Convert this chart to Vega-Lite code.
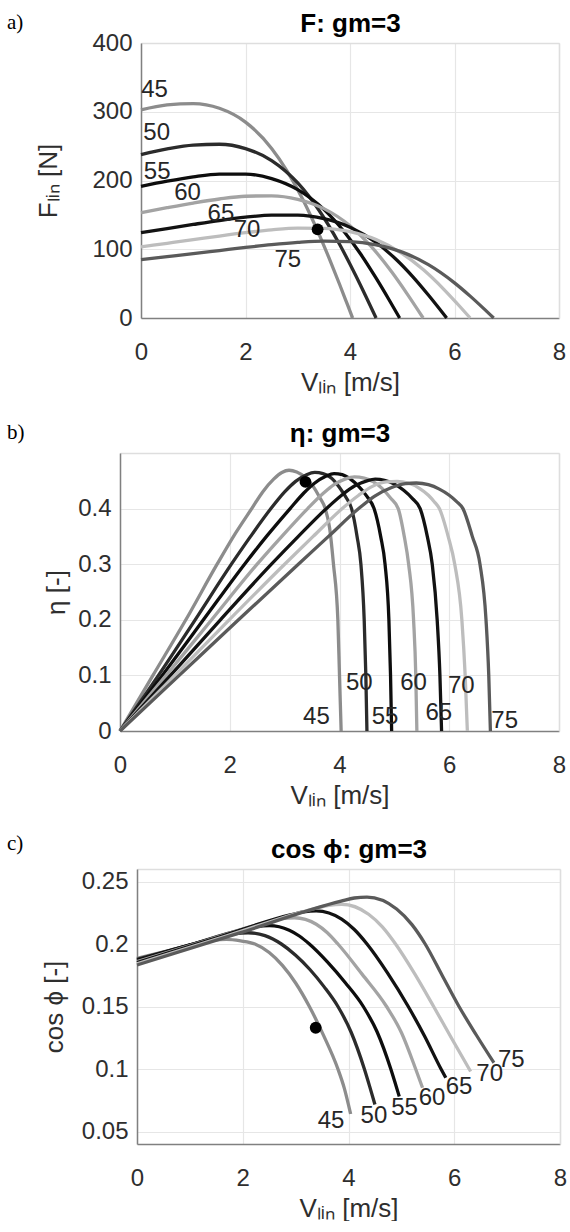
{
  "$schema": "https://vega.github.io/schema/vega-lite/v6.json",
  "background": "white",
  "padding": {"left": 7, "top": 10, "right": 0, "bottom": 0},
  "spacing": 25,
  "config": {
    "font": "Liberation Sans",
    "view": {"stroke": null},
    "axis": {
      "domainColor": "#808080", "domainWidth": 1.5,
      "gridColor": "#e6e6e6", "gridWidth": 1.2,
      "ticks": false, "tickSize": 0,
      "labelFont": "Liberation Sans", "labelFontSize": 24, "labelColor": "#2e2e2e",
      "labelFlush": false, "labelOverlap": false,
      "titleFont": "Liberation Sans", "titleFontSize": 26, "titleFontWeight": "normal", "titleColor": "#2e2e2e"
    },
    "axisX": {"labelPadding": 22, "titlePadding": 5},
    "axisY": {"labelPadding": 9},
    "title": {"font": "Liberation Serif", "fontSize": 21, "fontWeight": "normal", "color": "#000000", "anchor": "start", "frame": "group", "offset": 0, "baseline": "alphabetic"},
    "line": {"strokeWidth": 3.3, "interpolate": "monotone"},
    "text": {"fontSize": 24, "color": "#262626", "align": "center", "baseline": "middle"}
  },
  "datasets": {
    "F": [
      {"angle": 45, "v": 0, "val": 302.6}, {"angle": 45, "v": 0.5, "val": 309.9}, {"angle": 45, "v": 1.0, "val": 311.8}, {"angle": 45, "v": 1.5, "val": 305.0}, {"angle": 45, "v": 2.0, "val": 284.9}, {"angle": 45, "v": 2.5, "val": 246.7}, {"angle": 45, "v": 2.8, "val": 213.4}, {"angle": 45, "v": 3.1, "val": 172.1}, {"angle": 45, "v": 3.4, "val": 123.2}, {"angle": 45, "v": 3.6, "val": 87.1}, {"angle": 45, "v": 3.8, "val": 49.1}, {"angle": 45, "v": 3.95, "val": 19.7}, {"angle": 45, "v": 4.05, "val": 0},
      {"angle": 50, "v": 0, "val": 237.7}, {"angle": 50, "v": 0.5, "val": 246.0}, {"angle": 50, "v": 1.0, "val": 251.6}, {"angle": 50, "v": 1.5, "val": 252.7}, {"angle": 50, "v": 2.0, "val": 246.4}, {"angle": 50, "v": 2.5, "val": 229.0}, {"angle": 50, "v": 3.0, "val": 196.4}, {"angle": 50, "v": 3.4, "val": 157.5}, {"angle": 50, "v": 3.8, "val": 107.2}, {"angle": 50, "v": 4.1, "val": 63.2}, {"angle": 50, "v": 4.3, "val": 32.0}, {"angle": 50, "v": 4.5, "val": 0},
      {"angle": 55, "v": 0, "val": 191.4}, {"angle": 55, "v": 0.5, "val": 199.0}, {"angle": 55, "v": 1.0, "val": 205.4}, {"angle": 55, "v": 1.5, "val": 209.4}, {"angle": 55, "v": 2.0, "val": 209.3}, {"angle": 55, "v": 2.5, "val": 202.8}, {"angle": 55, "v": 3.0, "val": 186.7}, {"angle": 55, "v": 3.5, "val": 158.0}, {"angle": 55, "v": 3.9, "val": 124.4}, {"angle": 55, "v": 4.2, "val": 93.4}, {"angle": 55, "v": 4.5, "val": 57.9}, {"angle": 55, "v": 4.75, "val": 26.2}, {"angle": 55, "v": 4.95, "val": 0},
      {"angle": 60, "v": 0, "val": 153.2}, {"angle": 60, "v": 0.5, "val": 160.4}, {"angle": 60, "v": 1.0, "val": 167.2}, {"angle": 60, "v": 1.5, "val": 173.1}, {"angle": 60, "v": 2.0, "val": 177.1}, {"angle": 60, "v": 2.5, "val": 177.7}, {"angle": 60, "v": 3.0, "val": 172.6}, {"angle": 60, "v": 3.5, "val": 159.1}, {"angle": 60, "v": 4.0, "val": 134.2}, {"angle": 60, "v": 4.4, "val": 104.6}, {"angle": 60, "v": 4.8, "val": 66.8}, {"angle": 60, "v": 5.1, "val": 34.4}, {"angle": 60, "v": 5.4, "val": 0},
      {"angle": 65, "v": 0, "val": 124.1}, {"angle": 65, "v": 0.5, "val": 130.1}, {"angle": 65, "v": 1.0, "val": 136.1}, {"angle": 65, "v": 1.5, "val": 141.8}, {"angle": 65, "v": 2.0, "val": 146.6}, {"angle": 65, "v": 2.5, "val": 149.6}, {"angle": 65, "v": 3.0, "val": 149.5}, {"angle": 65, "v": 3.5, "val": 144.4}, {"angle": 65, "v": 4.0, "val": 132.0}, {"angle": 65, "v": 4.5, "val": 109.8}, {"angle": 65, "v": 4.9, "val": 84.0}, {"angle": 65, "v": 5.2, "val": 60.2}, {"angle": 65, "v": 5.5, "val": 33.4}, {"angle": 65, "v": 5.85, "val": 0},
      {"angle": 70, "v": 0, "val": 103.5}, {"angle": 70, "v": 0.5, "val": 108.7}, {"angle": 70, "v": 1.0, "val": 113.9}, {"angle": 70, "v": 1.5, "val": 119.2}, {"angle": 70, "v": 2.0, "val": 124.1}, {"angle": 70, "v": 2.5, "val": 128.2}, {"angle": 70, "v": 3.0, "val": 130.7}, {"angle": 70, "v": 3.5, "val": 130.4}, {"angle": 70, "v": 4.0, "val": 125.5}, {"angle": 70, "v": 4.5, "val": 114.0}, {"angle": 70, "v": 5.0, "val": 93.7}, {"angle": 70, "v": 5.4, "val": 70.4}, {"angle": 70, "v": 5.8, "val": 41.4}, {"angle": 70, "v": 6.05, "val": 21.1}, {"angle": 70, "v": 6.3, "val": 0},
      {"angle": 75, "v": 0, "val": 85.0}, {"angle": 75, "v": 0.5, "val": 89.3}, {"angle": 75, "v": 1.0, "val": 93.6}, {"angle": 75, "v": 1.5, "val": 98.1}, {"angle": 75, "v": 2.0, "val": 102.6}, {"angle": 75, "v": 2.5, "val": 106.7}, {"angle": 75, "v": 3.0, "val": 110.0}, {"angle": 75, "v": 3.5, "val": 111.9}, {"angle": 75, "v": 4.0, "val": 111.2}, {"angle": 75, "v": 4.5, "val": 106.4}, {"angle": 75, "v": 5.0, "val": 95.8}, {"angle": 75, "v": 5.5, "val": 77.6}, {"angle": 75, "v": 6.0, "val": 51.1}, {"angle": 75, "v": 6.3, "val": 31.8}, {"angle": 75, "v": 6.55, "val": 14.4}, {"angle": 75, "v": 6.75, "val": 0}
    ],
    "Flab": [
      {"angle": 45, "v": 0.26, "val": 331}, {"angle": 50, "v": 0.3, "val": 269}, {"angle": 55, "v": 0.31, "val": 212},
      {"angle": 60, "v": 0.89, "val": 182}, {"angle": 65, "v": 1.53, "val": 152}, {"angle": 70, "v": 2.03, "val": 128.5}, {"angle": 75, "v": 2.81, "val": 84}
    ],
    "Fpt": [{"v": 3.38, "val": 129}],
    "eta": [
      {"angle": 45, "v": 0, "val": 0}, {"angle": 45, "v": 0.6, "val": 0.1}, {"angle": 45, "v": 1.2, "val": 0.2}, {"angle": 45, "v": 1.77, "val": 0.3}, {"angle": 45, "v": 2.1, "val": 0.355}, {"angle": 45, "v": 2.4, "val": 0.4}, {"angle": 45, "v": 2.6, "val": 0.43}, {"angle": 45, "v": 2.8, "val": 0.453}, {"angle": 45, "v": 2.95, "val": 0.465}, {"angle": 45, "v": 3.08, "val": 0.469}, {"angle": 45, "v": 3.22, "val": 0.466}, {"angle": 45, "v": 3.38, "val": 0.456}, {"angle": 45, "v": 3.52, "val": 0.44}, {"angle": 45, "v": 3.64, "val": 0.42}, {"angle": 45, "v": 3.74, "val": 0.4}, {"angle": 45, "v": 3.82, "val": 0.365}, {"angle": 45, "v": 3.89, "val": 0.3}, {"angle": 45, "v": 3.97, "val": 0.2}, {"angle": 45, "v": 4.0, "val": 0.1}, {"angle": 45, "v": 4.03, "val": 0},
      {"angle": 50, "v": 0, "val": 0}, {"angle": 50, "v": 0.7, "val": 0.1}, {"angle": 50, "v": 1.37, "val": 0.2}, {"angle": 50, "v": 2.03, "val": 0.3}, {"angle": 50, "v": 2.38, "val": 0.35}, {"angle": 50, "v": 2.75, "val": 0.4}, {"angle": 50, "v": 3.0, "val": 0.43}, {"angle": 50, "v": 3.2, "val": 0.449}, {"angle": 50, "v": 3.4, "val": 0.461}, {"angle": 50, "v": 3.55, "val": 0.465}, {"angle": 50, "v": 3.7, "val": 0.463}, {"angle": 50, "v": 3.85, "val": 0.455}, {"angle": 50, "v": 4.0, "val": 0.438}, {"angle": 50, "v": 4.12, "val": 0.42}, {"angle": 50, "v": 4.22, "val": 0.4}, {"angle": 50, "v": 4.32, "val": 0.35}, {"angle": 50, "v": 4.39, "val": 0.3}, {"angle": 50, "v": 4.45, "val": 0.2}, {"angle": 50, "v": 4.48, "val": 0.1}, {"angle": 50, "v": 4.5, "val": 0},
      {"angle": 55, "v": 0, "val": 0}, {"angle": 55, "v": 0.77, "val": 0.1}, {"angle": 55, "v": 1.52, "val": 0.2}, {"angle": 55, "v": 2.27, "val": 0.3}, {"angle": 55, "v": 2.67, "val": 0.35}, {"angle": 55, "v": 3.1, "val": 0.4}, {"angle": 55, "v": 3.35, "val": 0.428}, {"angle": 55, "v": 3.55, "val": 0.446}, {"angle": 55, "v": 3.75, "val": 0.458}, {"angle": 55, "v": 3.9, "val": 0.463}, {"angle": 55, "v": 4.05, "val": 0.461}, {"angle": 55, "v": 4.2, "val": 0.453}, {"angle": 55, "v": 4.35, "val": 0.44}, {"angle": 55, "v": 4.5, "val": 0.422}, {"angle": 55, "v": 4.63, "val": 0.4}, {"angle": 55, "v": 4.75, "val": 0.35}, {"angle": 55, "v": 4.83, "val": 0.3}, {"angle": 55, "v": 4.9, "val": 0.2}, {"angle": 55, "v": 4.93, "val": 0.1}, {"angle": 55, "v": 4.95, "val": 0},
      {"angle": 60, "v": 0, "val": 0}, {"angle": 60, "v": 0.84, "val": 0.1}, {"angle": 60, "v": 1.67, "val": 0.2}, {"angle": 60, "v": 2.5, "val": 0.3}, {"angle": 60, "v": 2.95, "val": 0.35}, {"angle": 60, "v": 3.42, "val": 0.4}, {"angle": 60, "v": 3.7, "val": 0.427}, {"angle": 60, "v": 3.9, "val": 0.443}, {"angle": 60, "v": 4.1, "val": 0.453}, {"angle": 60, "v": 4.27, "val": 0.457}, {"angle": 60, "v": 4.45, "val": 0.455}, {"angle": 60, "v": 4.62, "val": 0.448}, {"angle": 60, "v": 4.78, "val": 0.436}, {"angle": 60, "v": 4.93, "val": 0.419}, {"angle": 60, "v": 5.07, "val": 0.4}, {"angle": 60, "v": 5.18, "val": 0.35}, {"angle": 60, "v": 5.26, "val": 0.3}, {"angle": 60, "v": 5.35, "val": 0.2}, {"angle": 60, "v": 5.39, "val": 0.1}, {"angle": 60, "v": 5.41, "val": 0},
      {"angle": 65, "v": 0, "val": 0}, {"angle": 65, "v": 0.92, "val": 0.1}, {"angle": 65, "v": 1.83, "val": 0.2}, {"angle": 65, "v": 2.76, "val": 0.3}, {"angle": 65, "v": 3.25, "val": 0.35}, {"angle": 65, "v": 3.76, "val": 0.4}, {"angle": 65, "v": 4.05, "val": 0.425}, {"angle": 65, "v": 4.28, "val": 0.441}, {"angle": 65, "v": 4.5, "val": 0.45}, {"angle": 65, "v": 4.65, "val": 0.453}, {"angle": 65, "v": 4.82, "val": 0.451}, {"angle": 65, "v": 5.0, "val": 0.444}, {"angle": 65, "v": 5.17, "val": 0.433}, {"angle": 65, "v": 5.33, "val": 0.418}, {"angle": 65, "v": 5.47, "val": 0.4}, {"angle": 65, "v": 5.6, "val": 0.35}, {"angle": 65, "v": 5.69, "val": 0.3}, {"angle": 65, "v": 5.78, "val": 0.2}, {"angle": 65, "v": 5.83, "val": 0.1}, {"angle": 65, "v": 5.86, "val": 0},
      {"angle": 70, "v": 0, "val": 0}, {"angle": 70, "v": 1.0, "val": 0.1}, {"angle": 70, "v": 1.99, "val": 0.2}, {"angle": 70, "v": 3.0, "val": 0.3}, {"angle": 70, "v": 3.52, "val": 0.35}, {"angle": 70, "v": 4.05, "val": 0.4}, {"angle": 70, "v": 4.35, "val": 0.424}, {"angle": 70, "v": 4.6, "val": 0.44}, {"angle": 70, "v": 4.85, "val": 0.448}, {"angle": 70, "v": 5.05, "val": 0.449}, {"angle": 70, "v": 5.25, "val": 0.446}, {"angle": 70, "v": 5.45, "val": 0.437}, {"angle": 70, "v": 5.62, "val": 0.424}, {"angle": 70, "v": 5.73, "val": 0.412}, {"angle": 70, "v": 5.82, "val": 0.4}, {"angle": 70, "v": 5.98, "val": 0.35}, {"angle": 70, "v": 6.1, "val": 0.3}, {"angle": 70, "v": 6.23, "val": 0.2}, {"angle": 70, "v": 6.29, "val": 0.1}, {"angle": 70, "v": 6.33, "val": 0},
      {"angle": 75, "v": 0, "val": 0}, {"angle": 75, "v": 1.08, "val": 0.1}, {"angle": 75, "v": 2.16, "val": 0.2}, {"angle": 75, "v": 3.25, "val": 0.3}, {"angle": 75, "v": 3.8, "val": 0.35}, {"angle": 75, "v": 4.35, "val": 0.4}, {"angle": 75, "v": 4.65, "val": 0.423}, {"angle": 75, "v": 4.95, "val": 0.438}, {"angle": 75, "v": 5.2, "val": 0.445}, {"angle": 75, "v": 5.4, "val": 0.446}, {"angle": 75, "v": 5.62, "val": 0.443}, {"angle": 75, "v": 5.82, "val": 0.435}, {"angle": 75, "v": 6.0, "val": 0.424}, {"angle": 75, "v": 6.13, "val": 0.413}, {"angle": 75, "v": 6.25, "val": 0.4}, {"angle": 75, "v": 6.42, "val": 0.35}, {"angle": 75, "v": 6.56, "val": 0.3}, {"angle": 75, "v": 6.67, "val": 0.2}, {"angle": 75, "v": 6.72, "val": 0.1}, {"angle": 75, "v": 6.75, "val": 0}
    ],
    "etalab": [
      {"angle": 45, "v": 3.58, "val": 0.026}, {"angle": 50, "v": 4.36, "val": 0.086}, {"angle": 55, "v": 4.83, "val": 0.026},
      {"angle": 60, "v": 5.35, "val": 0.086}, {"angle": 65, "v": 5.81, "val": 0.032}, {"angle": 70, "v": 6.22, "val": 0.081}, {"angle": 75, "v": 7.01, "val": 0.018}
    ],
    "etapt": [{"v": 3.38, "val": 0.448}],
    "pf": [
      {"angle": 45, "v": 0, "val": 0.1885}, {"angle": 45, "v": 0.6, "val": 0.1948}, {"angle": 45, "v": 1.2, "val": 0.2011}, {"angle": 45, "v": 1.45, "val": 0.2031}, {"angle": 45, "v": 1.69, "val": 0.2037}, {"angle": 45, "v": 1.96, "val": 0.2025}, {"angle": 45, "v": 2.23, "val": 0.2}, {"angle": 45, "v": 2.5, "val": 0.1932}, {"angle": 45, "v": 2.75, "val": 0.1829}, {"angle": 45, "v": 3.0, "val": 0.1688}, {"angle": 45, "v": 3.26, "val": 0.15}, {"angle": 45, "v": 3.53, "val": 0.1267}, {"angle": 45, "v": 3.8, "val": 0.1}, {"angle": 45, "v": 3.92, "val": 0.0847}, {"angle": 45, "v": 4.04, "val": 0.064},
      {"angle": 50, "v": 0, "val": 0.1878}, {"angle": 50, "v": 0.8, "val": 0.1969}, {"angle": 50, "v": 1.61, "val": 0.2062}, {"angle": 50, "v": 1.85, "val": 0.2083}, {"angle": 50, "v": 2.1, "val": 0.209}, {"angle": 50, "v": 2.42, "val": 0.2067}, {"angle": 50, "v": 2.73, "val": 0.2}, {"angle": 50, "v": 3.0, "val": 0.191}, {"angle": 50, "v": 3.27, "val": 0.1796}, {"angle": 50, "v": 3.54, "val": 0.1657}, {"angle": 50, "v": 3.8, "val": 0.15}, {"angle": 50, "v": 4.05, "val": 0.1294}, {"angle": 50, "v": 4.3, "val": 0.1}, {"angle": 50, "v": 4.4, "val": 0.0861}, {"angle": 50, "v": 4.5, "val": 0.0716},
      {"angle": 55, "v": 0, "val": 0.187}, {"angle": 55, "v": 1.0, "val": 0.1993}, {"angle": 55, "v": 2.01, "val": 0.2117}, {"angle": 55, "v": 2.26, "val": 0.214}, {"angle": 55, "v": 2.5, "val": 0.2147}, {"angle": 55, "v": 2.88, "val": 0.211}, {"angle": 55, "v": 3.07, "val": 0.2064}, {"angle": 55, "v": 3.26, "val": 0.2}, {"angle": 55, "v": 3.6, "val": 0.1857}, {"angle": 55, "v": 3.94, "val": 0.169}, {"angle": 55, "v": 4.28, "val": 0.15}, {"angle": 55, "v": 4.54, "val": 0.1298}, {"angle": 55, "v": 4.8, "val": 0.1}, {"angle": 55, "v": 4.88, "val": 0.0892}, {"angle": 55, "v": 4.96, "val": 0.078},
      {"angle": 60, "v": 0, "val": 0.186}, {"angle": 60, "v": 1.25, "val": 0.202}, {"angle": 60, "v": 2.49, "val": 0.2179}, {"angle": 60, "v": 2.74, "val": 0.2203}, {"angle": 60, "v": 2.98, "val": 0.221}, {"angle": 60, "v": 3.39, "val": 0.2158}, {"angle": 60, "v": 3.6, "val": 0.209}, {"angle": 60, "v": 3.8, "val": 0.2}, {"angle": 60, "v": 4.26, "val": 0.1757}, {"angle": 60, "v": 4.72, "val": 0.15}, {"angle": 60, "v": 5.0, "val": 0.1292}, {"angle": 60, "v": 5.27, "val": 0.1}, {"angle": 60, "v": 5.4, "val": 0.085},
      {"angle": 65, "v": 0, "val": 0.1852}, {"angle": 65, "v": 1.45, "val": 0.2042}, {"angle": 65, "v": 2.9, "val": 0.2233}, {"angle": 65, "v": 3.15, "val": 0.2257}, {"angle": 65, "v": 3.39, "val": 0.2265}, {"angle": 65, "v": 3.87, "val": 0.2199}, {"angle": 65, "v": 4.11, "val": 0.2116}, {"angle": 65, "v": 4.35, "val": 0.2}, {"angle": 65, "v": 4.74, "val": 0.1767}, {"angle": 65, "v": 5.13, "val": 0.15}, {"angle": 65, "v": 5.44, "val": 0.1262}, {"angle": 65, "v": 5.75, "val": 0.1}, {"angle": 65, "v": 5.84, "val": 0.093},
      {"angle": 70, "v": 0, "val": 0.1842}, {"angle": 70, "v": 1.7, "val": 0.2065}, {"angle": 70, "v": 3.38, "val": 0.2286}, {"angle": 70, "v": 3.63, "val": 0.231}, {"angle": 70, "v": 3.87, "val": 0.2318}, {"angle": 70, "v": 4.38, "val": 0.2238}, {"angle": 70, "v": 4.64, "val": 0.2137}, {"angle": 70, "v": 4.89, "val": 0.2}, {"angle": 70, "v": 5.25, "val": 0.1763}, {"angle": 70, "v": 5.61, "val": 0.15}, {"angle": 70, "v": 5.96, "val": 0.1238}, {"angle": 70, "v": 6.31, "val": 0.098},
      {"angle": 75, "v": 0, "val": 0.1832}, {"angle": 75, "v": 1.93, "val": 0.2087}, {"angle": 75, "v": 3.86, "val": 0.2343}, {"angle": 75, "v": 4.11, "val": 0.2368}, {"angle": 75, "v": 4.35, "val": 0.2375}, {"angle": 75, "v": 4.91, "val": 0.228}, {"angle": 75, "v": 5.2, "val": 0.2155}, {"angle": 75, "v": 5.45, "val": 0.2}, {"angle": 75, "v": 5.77, "val": 0.175}, {"angle": 75, "v": 6.09, "val": 0.15}, {"angle": 75, "v": 6.42, "val": 0.127}, {"angle": 75, "v": 6.75, "val": 0.105}
    ],
    "pflab": [
      {"angle": 45, "v": 3.67, "val": 0.0584}, {"angle": 50, "v": 4.48, "val": 0.0627}, {"angle": 55, "v": 5.06, "val": 0.0688},
      {"angle": 60, "v": 5.58, "val": 0.0772}, {"angle": 65, "v": 6.09, "val": 0.086}, {"angle": 70, "v": 6.67, "val": 0.0964}, {"angle": 75, "v": 7.08, "val": 0.107}
    ],
    "pfpt": [{"v": 3.38, "val": 0.133}]
  },
  "vconcat": [
    {
      "width": 439, "height": 275,
      "title": {"text": "a)", "dx": -113, "dy": 27},
      "resolve": {"axis": {"x": "independent", "y": "independent"}},
      "layer": [
        {
          "data": {"name": "F"},
          "mark": {"type": "line"},
          "encoding": {
            "x": {"field": "v", "type": "quantitative", "scale": {"domain": [0, 8], "range": [21, 439]}, "axis": {"values": [0, 2, 4, 6, 8], "title": "Vₗᵢₙ [m/s]"}},
            "y": {"field": "val", "type": "quantitative", "scale": {"domain": [0, 400]},
                  "axis": {"values": [0, 100, 200, 300, 400], "title": "Fₗᵢₙ [N]", "titlePadding": 30, "offset": -21}},
            "color": {"field": "angle", "type": "nominal", "legend": null,
                      "scale": {"domain": [45, 50, 55, 60, 65, 70, 75], "range": ["#8c8c8c", "#2b2b2b", "#0d0d0d", "#a3a3a3", "#121212", "#bdbdbd", "#5a5a5a"]}}
          }
        },
        {
          "data": {"name": "Flab"},
          "mark": {"type": "text"},
          "encoding": {
            "x": {"field": "v", "type": "quantitative", "axis": null},
            "y": {"field": "val", "type": "quantitative", "axis": null},
            "text": {"field": "angle"}
          }
        },
        {
          "data": {"name": "Fpt"},
          "mark": {"type": "circle", "size": 140, "color": "#000000", "opacity": 1},
          "encoding": {
            "x": {"field": "v", "type": "quantitative",
                  "axis": {"orient": "top", "title": "F: gm=3", "labels": false, "grid": false, "domainColor": "#dedede",
                           "titleFontWeight": "bold", "titleColor": "#000000", "titlePadding": 12, "titleBaseline": "alphabetic"}},
            "y": {"field": "val", "type": "quantitative",
                  "axis": {"orient": "right", "title": null, "labels": false, "grid": false, "domainColor": "#dedede"}}
          }
        }
      ]
    },
    {
      "width": 439, "height": 278,
      "title": {"text": "b)", "dx": -113, "dy": 27},
      "resolve": {"axis": {"x": "independent", "y": "independent"}},
      "layer": [
        {
          "data": {"name": "eta"},
          "mark": {"type": "line"},
          "encoding": {
            "x": {"field": "v", "type": "quantitative", "scale": {"domain": [0, 8]}, "axis": {"values": [0, 2, 4, 6, 8], "title": "Vₗᵢₙ [m/s]"}},
            "y": {"field": "val", "type": "quantitative", "scale": {"domain": [0, 0.5]},
                  "axis": {"values": [0, 0.1, 0.2, 0.3, 0.4], "format": ".1~f", "title": "η [-]", "titlePadding": 8}},
            "color": {"field": "angle", "type": "nominal", "legend": null,
                      "scale": {"domain": [45, 50, 55, 60, 65, 70, 75], "range": ["#8c8c8c", "#2b2b2b", "#0d0d0d", "#a3a3a3", "#121212", "#bdbdbd", "#5a5a5a"]}}
          }
        },
        {
          "data": {"name": "etalab"},
          "mark": {"type": "text"},
          "encoding": {
            "x": {"field": "v", "type": "quantitative", "axis": null},
            "y": {"field": "val", "type": "quantitative", "axis": null},
            "text": {"field": "angle"}
          }
        },
        {
          "data": {"name": "etapt"},
          "mark": {"type": "circle", "size": 140, "color": "#000000", "opacity": 1},
          "encoding": {
            "x": {"field": "v", "type": "quantitative",
                  "axis": {"orient": "top", "title": "η: gm=3", "labels": false, "grid": false, "domainColor": "#dedede",
                           "titleFontWeight": "bold", "titleColor": "#000000", "titlePadding": 12, "titleBaseline": "alphabetic"}},
            "y": {"field": "val", "type": "quantitative",
                  "axis": {"orient": "right", "title": null, "labels": false, "grid": false, "domainColor": "#dedede"}}
          }
        }
      ]
    },
    {
      "width": 440, "height": 275,
      "title": {"text": "c)", "dx": -113, "dy": 22},
      "resolve": {"axis": {"x": "independent", "y": "independent"}},
      "layer": [
        {
          "data": {"name": "pf"},
          "mark": {"type": "line"},
          "encoding": {
            "x": {"field": "v", "type": "quantitative", "scale": {"domain": [0, 8], "range": [17, 440]}, "axis": {"values": [0, 2, 4, 6, 8], "title": "Vₗᵢₙ [m/s]"}},
            "y": {"field": "val", "type": "quantitative", "scale": {"domain": [0.05, 0.25]},
                  "axis": {"values": [0.05, 0.1, 0.15, 0.2, 0.25], "format": ".2~f", "title": "cos ϕ [-]", "titlePadding": 14, "offset": -17}},
            "color": {"field": "angle", "type": "nominal", "legend": null,
                      "scale": {"domain": [45, 50, 55, 60, 65, 70, 75], "range": ["#8c8c8c", "#2b2b2b", "#0d0d0d", "#a3a3a3", "#121212", "#bdbdbd", "#5a5a5a"]}}
          }
        },
        {
          "data": {"name": "pflab"},
          "mark": {"type": "text"},
          "encoding": {
            "x": {"field": "v", "type": "quantitative", "axis": null},
            "y": {"field": "val", "type": "quantitative", "axis": null},
            "text": {"field": "angle"}
          }
        },
        {
          "data": {"name": "pfpt"},
          "mark": {"type": "circle", "size": 140, "color": "#000000", "opacity": 1},
          "encoding": {
            "x": {"field": "v", "type": "quantitative",
                  "axis": {"orient": "top", "title": "cos ϕ: gm=3", "labels": false, "grid": false, "domainColor": "#dedede",
                           "titleFontWeight": "bold", "titleColor": "#000000", "titlePadding": 12, "titleBaseline": "alphabetic"}},
            "y": {"field": "val", "type": "quantitative",
                  "axis": {"orient": "right", "title": null, "labels": false, "grid": false, "domainColor": "#dedede"}}
          }
        }
      ]
    }
  ]
}
